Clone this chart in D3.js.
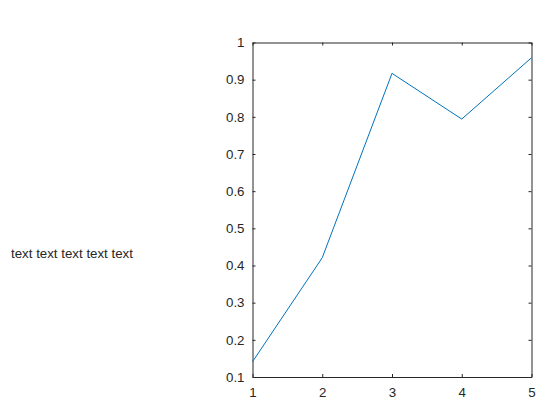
<!DOCTYPE html>
<html>
<head>
<meta charset="utf-8">
<script src="https://cdn.jsdelivr.net/npm/d3@7"></script>
<style>
  body { margin: 0; background: #fff; }
  svg { display: block; }
  text { font-family: "Liberation Sans", Arial, sans-serif; font-size: 13.3px; fill: #262626; }
</style>
</head>
<body>
<div id="chart"></div>
<script>
// Data
var xValues = [1, 2, 3, 4, 5];
var yValues = [0.141, 0.421, 0.917, 0.794, 0.959];
var xTicks = [1, 2, 3, 4, 5];
var yTicks = [0.1, 0.2, 0.3, 0.4, 0.5, 0.6, 0.7, 0.8, 0.9, 1];
var sideText = "text text text text text";

var svgWidth = 560;
var svgHeight = 420;

var margin = { top: 42.5, right: 28.5, bottom: 43, left: 252.5 };
var chartWidth = svgWidth - margin.left - margin.right;
var chartHeight = svgHeight - margin.top - margin.bottom;

var svg = d3.select("#chart")
  .append("svg")
  .attr("width", svgWidth)
  .attr("height", svgHeight);

var chartGroup = svg.append("g")
  .attr("transform", `translate(${margin.left}, ${margin.top})`);

var xScale = d3.scaleLinear().domain([1, 5]).range([0, chartWidth]);
var yScale = d3.scaleLinear().domain([0.1, 1]).range([chartHeight, 0]);

// axes, ticks pointing inward like MATLAB
var bottomAxis = d3.axisBottom(xScale).tickValues(xTicks).tickSizeInner(-3).tickSizeOuter(0).tickPadding(11)
  .tickFormat(d3.format("d"));
var topAxis = d3.axisTop(xScale).tickValues(xTicks).tickSizeInner(-3).tickSizeOuter(0).tickFormat("");
var leftAxis = d3.axisLeft(yScale).tickValues(yTicks).tickSizeInner(-3).tickSizeOuter(0).tickPadding(8)
  .tickFormat(d => d === 1 ? "1" : d3.format(".1f")(d));
var rightAxis = d3.axisRight(yScale).tickValues(yTicks).tickSizeInner(-3).tickSizeOuter(0).tickFormat("");

chartGroup.append("g").attr("transform", `translate(0, ${chartHeight})`).call(bottomAxis);
chartGroup.append("g").call(topAxis);
chartGroup.append("g").call(leftAxis);
chartGroup.append("g").attr("transform", `translate(${chartWidth}, 0)`).call(rightAxis);

chartGroup.selectAll(".domain").attr("stroke", "#262626");
chartGroup.selectAll(".tick line").attr("stroke", "#262626");
chartGroup.selectAll(".tick text").style("font-size", "13.3px").attr("fill", "#262626");

// the line
var line = d3.line()
  .x((d, i) => xScale(xValues[i]))
  .y(d => yScale(d));

chartGroup.append("path")
  .datum(yValues)
  .attr("fill", "none")
  .attr("stroke", "#0072BD")
  .attr("stroke-width", 1)
  .attr("d", line);

// free text on the left
svg.append("text")
  .attr("x", 11)
  .attr("y", 258)
  .text(sideText);
</script>
</body>
</html>
